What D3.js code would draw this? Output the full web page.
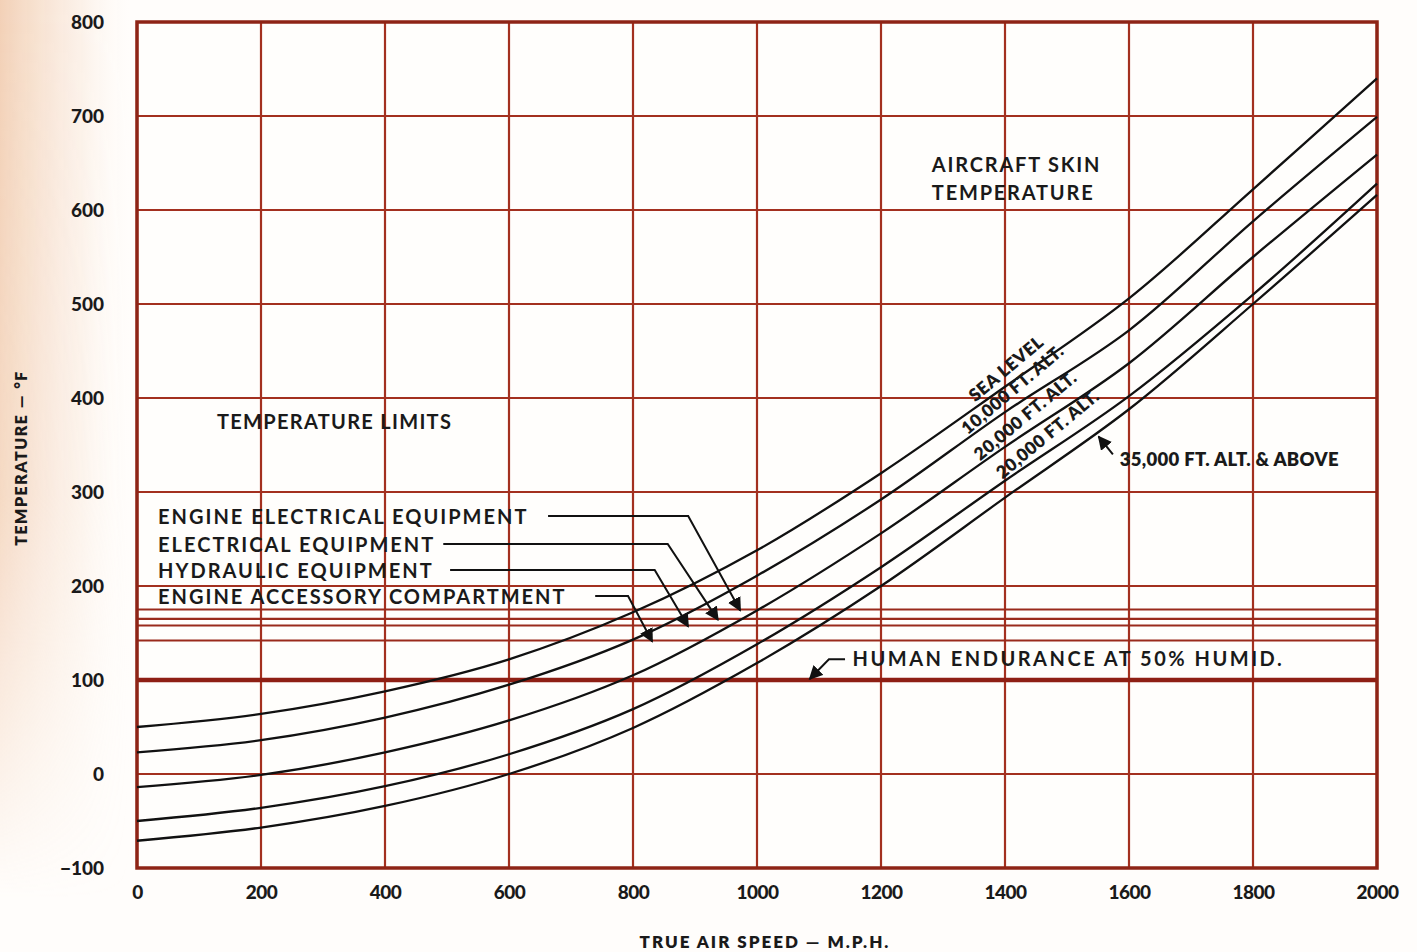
<!DOCTYPE html>
<html>
<head>
<meta charset="utf-8">
<script src="https://cdn.jsdelivr.net/npm/d3@7"></script>
<style>
  html, body { margin: 0; padding: 0; background: #fffdfb; }
  svg { display: block; }
  text { font-family: Lato, "Open Sans", sans-serif; fill: #1a1a1a; }
</style>
</head>
<body>
<svg id="chart" width="1417" height="952"></svg>
<script>
// ---------------- DATA ----------------
const speedTicks = [0, 200, 400, 600, 800, 1000, 1200, 1400, 1600, 1800, 2000];
const tempTicks = [-100, 0, 100, 200, 300, 400, 500, 600, 700, 800];
const speeds = [0, 200, 400, 600, 800, 1000, 1200, 1400, 1600, 1800, 2000];

const seaLevel   = [50, 64, 88, 122, 172, 238, 320, 412, 506, 622, 740];
const alt10000   = [23, 36, 60, 95, 143, 211, 292, 385, 472, 588, 699];
const alt20000   = [-14, -1, 23, 57, 105, 174, 256, 348, 437, 550, 659];
const alt30000   = [-50, -36, -13, 21, 69, 138, 220, 312, 402, 510, 628];
const alt35000   = [-71, -57, -34, 0, 49, 118, 200, 294, 388, 500, 616];

const curveLabels = ["SEA LEVEL", "10,000 FT. ALT.", "20,000 FT. ALT.", "20,000 FT. ALT.", ""];

const limitNames  = ["ENGINE ELECTRICAL EQUIPMENT", "ELECTRICAL EQUIPMENT", "HYDRAULIC EQUIPMENT", "ENGINE ACCESSORY COMPARTMENT"];
const limitValues = [175, 165, 158, 142];
const humanLimitName = "HUMAN ENDURANCE AT 50% HUMID.";
const humanLimitValue = 100;

// ---------------- LAYOUT ----------------
const svg = d3.select("#chart");
const x = d3.scaleLinear().domain([0, 2000]).range([137, 1377]);
const y = d3.scaleLinear().domain([-100, 800]).range([868, 22]);
const gridColor = "#a3301f";

// faint paper tint at left edge
const defs = svg.append("defs");
const grad = defs.append("linearGradient").attr("id", "paper").attr("x1", 0).attr("x2", 1).attr("y1", 0).attr("y2", 0);
grad.append("stop").attr("offset", "0%").attr("stop-color", "#e6a472").attr("stop-opacity", 0.5);
grad.append("stop").attr("offset", "60%").attr("stop-color", "#eec3a0").attr("stop-opacity", 0.2);
grad.append("stop").attr("offset", "100%").attr("stop-color", "#fffdfb").attr("stop-opacity", 0);
const vgrad = defs.append("linearGradient").attr("id", "fade").attr("x1", 0).attr("x2", 0).attr("y1", 0).attr("y2", 1);
vgrad.append("stop").attr("offset", "0%").attr("stop-color", "#fff").attr("stop-opacity", 1);
vgrad.append("stop").attr("offset", "55%").attr("stop-color", "#fff").attr("stop-opacity", 0.8);
vgrad.append("stop").attr("offset", "100%").attr("stop-color", "#fff").attr("stop-opacity", 0);
defs.append("mask").attr("id", "fadeMask").append("rect")
  .attr("x", 0).attr("y", 0).attr("width", 135).attr("height", 900).attr("fill", "url(#fade)");
svg.append("rect").attr("x", 0).attr("y", 0).attr("width", 135).attr("height", 900)
  .attr("fill", "url(#paper)").attr("mask", "url(#fadeMask)");

defs.append("marker").attr("id", "arrow").attr("viewBox", "0 0 10 10")
  .attr("refX", 9).attr("refY", 5).attr("markerWidth", 7).attr("markerHeight", 7)
  .attr("orient", "auto-start-reverse")
  .append("path").attr("d", "M0,0 L10,5 L0,10 z").attr("fill", "#111");

// plot background
svg.append("rect").attr("x", x(0)).attr("y", y(800)).attr("width", x(2000) - x(0)).attr("height", y(-100) - y(800)).attr("fill", "#fffefc");

// grid
const grid = svg.append("g");
grid.selectAll(".vg").data(speedTicks).join("line")
  .attr("x1", d => x(d)).attr("x2", d => x(d)).attr("y1", y(800)).attr("y2", y(-100))
  .attr("stroke", gridColor).attr("stroke-width", 2.2);
grid.selectAll(".hg").data(tempTicks).join("line")
  .attr("x1", x(0)).attr("x2", x(2000)).attr("y1", d => y(d)).attr("y2", d => y(d))
  .attr("stroke", gridColor).attr("stroke-width", 2.2);

// limit lines
grid.selectAll(".lim").data(limitValues).join("line")
  .attr("x1", x(0)).attr("x2", x(2000)).attr("y1", d => y(d)).attr("y2", d => y(d))
  .attr("stroke", "#9a2a1c").attr("stroke-width", 2.2);
grid.append("line").attr("x1", x(0)).attr("x2", x(2000)).attr("y1", y(humanLimitValue)).attr("y2", y(humanLimitValue))
  .attr("stroke", "#8e1f14").attr("stroke-width", 4.5);

// frame
svg.append("rect").attr("x", x(0)).attr("y", y(800)).attr("width", x(2000) - x(0)).attr("height", y(-100) - y(800))
  .attr("fill", "none").attr("stroke", "#8e2416").attr("stroke-width", 3.5);

// axes
const xAxis = svg.append("g").attr("transform", `translate(0,${y(-100) + 14})`)
  .call(d3.axisBottom(x).tickValues(speedTicks).tickSize(0).tickFormat(d3.format("d")));
xAxis.select(".domain").remove();
xAxis.selectAll("text").attr("font-size", 19).attr("font-weight", 900).attr("font-family", "Lato, sans-serif")
  .attr("fill", "#1a1a1a").style("letter-spacing", "-0.5px");

const yAxis = svg.append("g").attr("transform", `translate(${x(0) - 30},0)`)
  .call(d3.axisLeft(y).tickValues(tempTicks).tickSize(0).tickFormat(d => d < 0 ? "\u2212" + Math.abs(d) : d));
yAxis.select(".domain").remove();
yAxis.selectAll("text").attr("font-size", 19).attr("font-weight", 900).attr("font-family", "Lato, sans-serif").attr("fill", "#1a1a1a");

// axis titles
svg.append("text").attr("x", 765).attr("y", 948).attr("text-anchor", "middle")
  .attr("font-size", 17).attr("font-weight", 800).style("letter-spacing", "2px").text("TRUE AIR SPEED \u2014 M.P.H.");
svg.append("text").attr("transform", "translate(27,458) rotate(-90)").attr("text-anchor", "middle")
  .attr("font-size", 16).attr("font-weight", 800).style("letter-spacing", "1.5px").text("TEMPERATURE \u2014 \u00B0F");

// curves
const series = [seaLevel, alt10000, alt20000, alt30000, alt35000];
const line = d3.line().x(d => x(d[0])).y(d => y(d[1])).curve(d3.curveCatmullRom.alpha(0.5));
svg.append("g").selectAll("path").data(series).join("path")
  .attr("d", s => line(speeds.map((v, i) => [v, s[i]])))
  .attr("fill", "none").attr("stroke", "#111").attr("stroke-width", 2.3);

// curve labels (placed along the curves)
function valueAt(s, v) {
  const i = Math.min(speeds.length - 2, Math.floor(v / 200));
  const t = (v - speeds[i]) / (speeds[i + 1] - speeds[i]);
  return s[i] + t * (s[i + 1] - s[i]);
}
const labelStart = [1352, 1340, 1360, 1396];
const labelOffset = [5, 3, 3, 3];
curveLabels.forEach((lab, k) => {
  if (!lab) return;
  const v = labelStart[k], s = series[k];
  const px = x(v), py = y(valueAt(s, v));
  const ang = Math.atan2(y(valueAt(s, v + 60)) - y(valueAt(s, v - 60)), x(v + 60) - x(v - 60)) * 180 / Math.PI - 5;
  svg.append("text").attr("transform", `translate(${px},${py - labelOffset[k]}) rotate(${ang})`)
    .attr("font-size", 17.5).attr("font-weight", 800).style("letter-spacing", "0.5px").text(lab);
});

// 35,000 label
svg.append("text").attr("x", x(1585)).attr("y", y(328)).attr("font-size", 18.5).attr("font-weight", 800)
  .style("letter-spacing", "0.3px").text("35,000 FT. ALT. & ABOVE");
svg.append("line").attr("x1", x(1574)).attr("y1", y(340)).attr("x2", x(1551)).attr("y2", y(359))
  .attr("stroke", "#111").attr("stroke-width", 2).attr("marker-end", "url(#arrow)");

// text annotations
const annoFont = 20;
svg.append("text").attr("x", x(129)).attr("y", y(367)).attr("font-size", annoFont).attr("font-weight", 700)
  .style("letter-spacing", "1.3px").text("TEMPERATURE LIMITS");
svg.append("text").attr("x", x(1282)).attr("y", y(640)).attr("font-size", annoFont).attr("font-weight", 700)
  .style("letter-spacing", "1.8px").text("AIRCRAFT SKIN");
svg.append("text").attr("x", x(1282)).attr("y", y(611)).attr("font-size", annoFont).attr("font-weight", 700)
  .style("letter-spacing", "1.8px").text("TEMPERATURE");

// limit labels with leaders (positions in data units)
const leaderText  = [266, 236, 209, 181];
const leaderY     = [274.5, 244.7, 217, 189.4];
const leaderStart = [663, 494, 505, 739];
const leaderElbow = [889, 856, 835, 792];
const leaderTip   = [973, 937, 889, 831];
limitNames.forEach((nm, k) => {
  svg.append("text").attr("x", x(34)).attr("y", y(leaderText[k])).attr("font-size", annoFont).attr("font-weight", 700)
    .style("letter-spacing", "2px").text(nm);
  svg.append("path")
    .attr("d", `M${x(leaderStart[k])},${y(leaderY[k])} L${x(leaderElbow[k])},${y(leaderY[k])} L${x(leaderTip[k])},${y(limitValues[k]) + 1}`)
    .attr("fill", "none").attr("stroke", "#111").attr("stroke-width", 2).attr("marker-end", "url(#arrow)");
});

// human endurance
svg.append("text").attr("x", x(1154)).attr("y", y(115)).attr("font-size", annoFont).attr("font-weight", 700)
  .style("letter-spacing", "2.5px").text(humanLimitName);
svg.append("path")
  .attr("d", `M${x(1142)},${y(122)} L${x(1116)},${y(122)} L${x(1085)},${y(humanLimitValue) - 1}`)
  .attr("fill", "none").attr("stroke", "#111").attr("stroke-width", 2).attr("marker-end", "url(#arrow)");
</script>
</body>
</html>
